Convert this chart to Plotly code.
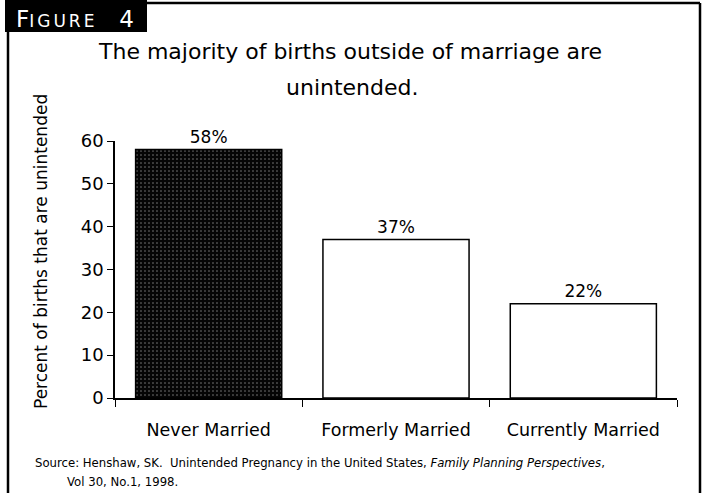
import plotly.graph_objects as go

categories = ["Never Married", "Formerly Married", "Currently Married"]
values = [58, 37, 22]
value_labels = ["58%", "37%", "22%"]
y_ticks = [0, 10, 20, 30, 40, 50, 60]

W, H = 706, 493
L, R, T, B = 115, 677, 141, 398

def px(x):
    return (x - L) / (R - L)

def py(y):
    return (B - y) / (B - T)

FONT = "DejaVu Sans"

fig = go.Figure()
fig.add_trace(go.Bar(
    x=categories, y=values,
    text=value_labels, textposition="outside",
    textfont=dict(family=FONT, size=17, color="black"),
    cliponaxis=False,
    marker=dict(
        color=["#050505", "white", "white"],
        line=dict(color="black", width=1.5),
        pattern=dict(shape=[".", "", ""], fgcolor="#6a6a6a", bgcolor="#050505",
                     size=4, solidity=0.12),
    ),
    width=0.78,
))

fig.update_layout(
    width=W, height=H,
    margin=dict(l=L, r=W - R, t=T, b=H - B),
    paper_bgcolor="white", plot_bgcolor="white",
    showlegend=False,
    font=dict(family=FONT, color="black"),
    xaxis=dict(
        showline=True, linecolor="black", linewidth=1.5,
        ticks="outside", tickson="boundaries", ticklen=7, tickcolor="black", tickwidth=1.2,
        tickfont=dict(family=FONT, size=17.5), showgrid=False,
        ticklabelstandoff=15,
    ),
    yaxis=dict(
        range=[0, 60], tickvals=y_ticks,
        showline=True, linecolor="black", linewidth=1.5,
        ticks="outside", ticklen=6, tickcolor="black", tickwidth=1.2,
        tickfont=dict(family=FONT, size=18), showgrid=False, zeroline=False,
        ticklabelstandoff=0,
    ),
)

# y-axis title
fig.add_annotation(text="Percent of births that are unintended",
                   xref="paper", yref="paper", x=px(41), y=py(252),
                   xanchor="center", yanchor="middle", textangle=-90, showarrow=False,
                   font=dict(family=FONT, size=17, color="black"))

# title (two lines)
fig.add_annotation(text="The majority of births outside of marriage are",
                   xref="paper", yref="paper", x=px(350), y=py(52),
                   xanchor="center", yanchor="middle", showarrow=False,
                   font=dict(family=FONT, size=22, color="black"))
fig.add_annotation(text="unintended.",
                   xref="paper", yref="paper", x=px(352), y=py(87),
                   xanchor="center", yanchor="middle", showarrow=False,
                   font=dict(family=FONT, size=22, color="black"))

# source
fig.add_annotation(text="Source: Henshaw, SK.  Unintended Pregnancy in the United States, <i>Family Planning Perspectives</i>,",
                   xref="paper", yref="paper", x=px(33), y=py(463),
                   xanchor="left", yanchor="middle", showarrow=False,
                   font=dict(family=FONT, size=11.7, color="black"))
fig.add_annotation(text="Vol 30, No.1, 1998.",
                   xref="paper", yref="paper", x=px(65), y=py(482),
                   xanchor="left", yanchor="middle", showarrow=False,
                   font=dict(family=FONT, size=11.7, color="black"))

# frame
frame = dict(color="black", width=2.5)
fig.add_shape(type="line", xref="paper", yref="paper", x0=px(8), x1=px(8), y0=py(30), y1=py(493), line=frame)
fig.add_shape(type="line", xref="paper", yref="paper", x0=px(147), x1=px(700), y0=py(3), y1=py(3), line=frame)
fig.add_shape(type="line", xref="paper", yref="paper", x0=px(700), x1=px(700), y0=py(3), y1=py(493), line=frame)
fig.add_shape(type="rect", xref="paper", yref="paper", x0=px(5), x1=px(147), y0=py(0), y1=py(32),
              fillcolor="black", line=dict(width=0))
fig.add_annotation(text="F<span style='font-size:17px;letter-spacing:3px'>IGURE</span>   4",
                   xref="paper", yref="paper", x=px(14), y=py(19),
                   xanchor="left", yanchor="middle", showarrow=False,
                   font=dict(family=FONT, size=23, color="white"))

fig.write_html("out.html", config={"displayModeBar": False},
               post_script="document.body.style.margin='0';")
